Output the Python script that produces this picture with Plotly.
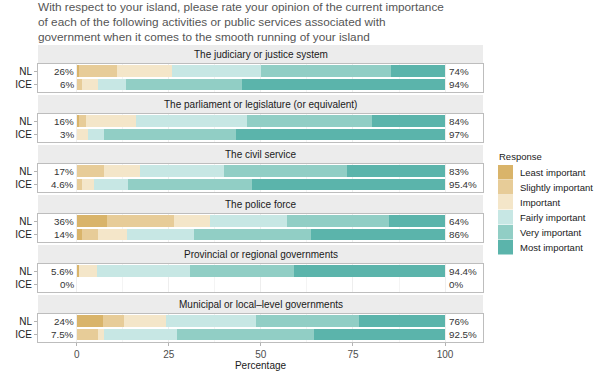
import plotly.graph_objects as go

# ---------------- data ----------------
facets = [
    "The judiciary or justice system",
    "The parliament or legislature (or equivalent)",
    "The civil service",
    "The police force",
    "Provincial or regional governments",
    "Municipal or local\u2013level governments",
]
groups = ["NL", "ICE"]
levels = ["Least important", "Slightly important", "Important",
          "Fairly important", "Very important", "Most important"]

# values per level, ordered facet by facet: [NL, ICE, NL, ICE, ...]
least_important = [0.7, 0.0, 0.7, 0.0, 0.0, 0.0, 8.3, 1.4, 0.6, 0.0, 7.1, 0.0]
slightly_important = [10.3, 1.4, 1.8, 0.0, 7.4, 1.4, 18.1, 4.4, 0.0, 0.0, 5.8, 5.9]
important = [14.8, 4.5, 13.6, 3.0, 9.7, 3.2, 9.7, 7.8, 5.0, 0.0, 11.4, 1.6]
fairly_important = [24.2, 7.5, 30.1, 4.4, 22.9, 9.2, 21.0, 18.3, 25.2, 0.0, 24.4, 19.6]
very_important = [35.3, 31.5, 34.0, 35.9, 33.4, 33.8, 27.7, 31.7, 28.2, 0.0, 28.0, 37.3]
most_important = [14.7, 55.1, 19.8, 56.7, 26.6, 52.4, 15.2, 36.4, 41.0, 0.0, 23.3, 35.6]

left_labels = ["26%", "6%", "16%", "3%", "17%", "4.6%", "36%", "14%", "5.6%", "0%", "24%", "7.5%"]
right_labels = ["74%", "94%", "84%", "97%", "83%", "95.4%", "64%", "86%", "94.4%", "0%", "76%", "92.5%"]

x_ticks = [0, 25, 50, 75, 100]

series = [least_important, slightly_important, important,
          fairly_important, very_important, most_important]
colors = ["#d9b46a", "#e7cc98", "#f4e6c9", "#c7e7e4", "#91cec5", "#5bb4ab"]

# ---------------- layout helpers ----------------
W, H = 600, 372
PX_L, PX_R = 38, 483
STRIP_TOP0, STRIP_H, PANEL_H, PERIOD = 45, 19, 28, 50
FONT = "Liberation Sans"


def fx(p):
    return p / W


def fy(p):
    return 1 - p / H


fig = go.Figure()
shapes = []
annotations = []
layout_axes = {}

for i, facet in enumerate(facets):
    suf = "" if i == 0 else str(i + 1)
    xa, ya = "x" + suf, "y" + suf
    for name, vals, col in zip(levels, series, colors):
        fig.add_trace(go.Bar(
            x=[vals[2 * i], vals[2 * i + 1]], y=groups, orientation="h",
            name=name, marker=dict(color=col, line=dict(width=0)),
            width=0.9, xaxis=xa, yaxis=ya, showlegend=False,
            hovertemplate=name + ": %{x}%<extra></extra>",
        ))
    for g, grp in enumerate(groups):
        annotations.append(dict(
            x=0, y=grp, xref=xa, yref=ya, text=left_labels[2 * i + g],
            showarrow=False, xanchor="right", xshift=-1,
            font=dict(family=FONT, size=9.8, color="#333333")))
        annotations.append(dict(
            x=100, y=grp, xref=xa, yref=ya, text=right_labels[2 * i + g],
            showarrow=False, xanchor="left", xshift=2,
            font=dict(family=FONT, size=9.8, color="#333333")))

    s_top = STRIP_TOP0 + PERIOD * i
    s_bot = s_top + STRIP_H
    p_bot = s_bot + PANEL_H
    shapes.append(dict(type="rect", xref="paper", yref="paper",
                       x0=fx(PX_L), x1=fx(PX_R), y0=fy(s_bot), y1=fy(s_top),
                       fillcolor="#ececec", line=dict(width=0), layer="below"))
    annotations.append(dict(
        x=fx((PX_L + PX_R) / 2), y=fy((s_top + s_bot) / 2), xref="paper", yref="paper",
        text=facet, showarrow=False, xanchor="center", yanchor="middle",
        font=dict(family=FONT, size=10, color="#1a1a1a")))

    last = i == len(facets) - 1
    layout_axes["xaxis" + suf] = dict(
        domain=[fx(PX_L), fx(PX_R)], anchor=ya, range=[-10.5, 110.3],
        tickvals=x_ticks, showticklabels=last, ticks="outside" if last else "",
        ticklen=2.5, tickcolor="#b3b3b3",
        tickfont=dict(family=FONT, size=10, color="#4d4d4d"),
        showgrid=True, gridcolor="#eeeeee", gridwidth=1,
        minor=dict(dtick=12.5, tick0=0, showgrid=True, gridcolor="#f4f4f4"),
        zeroline=False, showline=True, mirror=True, linecolor="#bdbdbd", linewidth=1,
        title=dict(text="Percentage" if last else "", standoff=0,
                   font=dict(family=FONT, size=10, color="#1a1a1a")),
        automargin=False, fixedrange=True,
    )
    layout_axes["yaxis" + suf] = dict(
        domain=[fy(p_bot), fy(s_bot)], anchor=xa, type="category",
        categoryorder="array", categoryarray=groups, range=[1.58, -0.56],
        ticks="outside", ticklen=3, tickcolor="#b3b3b3",
        tickfont=dict(family=FONT, size=10, color="#1a1a1a"),
        showgrid=False, zeroline=False, showline=True, mirror=True,
        linecolor="#bdbdbd", linewidth=1, automargin=False, fixedrange=True,
    )

# ---------------- manual legend ----------------
LEG_X = 498
annotations.append(dict(
    x=fx(LEG_X - 1), y=fy(156), xref="paper", yref="paper", text="Response",
    showarrow=False, xanchor="left", yanchor="middle",
    font=dict(family=FONT, size=9.5, color="#1a1a1a")))
for k, (name, col) in enumerate(zip(levels, colors)):
    top = 165 + 15 * k
    shapes.append(dict(type="rect", xref="paper", yref="paper",
                       x0=fx(LEG_X), x1=fx(LEG_X + 15), y0=fy(top + 14.5), y1=fy(top),
                       fillcolor=col, line=dict(width=0)))
    annotations.append(dict(
        x=fx(518), y=fy(top + 7.5), xref="paper", yref="paper", text=name,
        showarrow=False, xanchor="left", yanchor="middle",
        font=dict(family=FONT, size=9.5, color="#1a1a1a")))

fig.update_layout(
    width=W, height=H, margin=dict(l=0, r=0, t=0, b=0),
    paper_bgcolor="white", plot_bgcolor="white", barmode="stack",
    bargap=0.08,
    title=dict(
        text=("With respect to your island, please rate your opinion of the current importance<br>"
              "of each of the following activities or public services associated with<br>"
              "government when it comes to the smooth running of your island"),
        x=fx(PX_L), xanchor="left", xref="paper", y=1 - 10.5 / H, yanchor="top", yref="container",
        font=dict(family=FONT, size=11.8, color="#555555")),
    shapes=shapes, annotations=annotations, showlegend=False,
    **layout_axes,
)

fig.write_html("out.html", config={"displayModeBar": False},
               post_script="document.body.style.margin='0';")
